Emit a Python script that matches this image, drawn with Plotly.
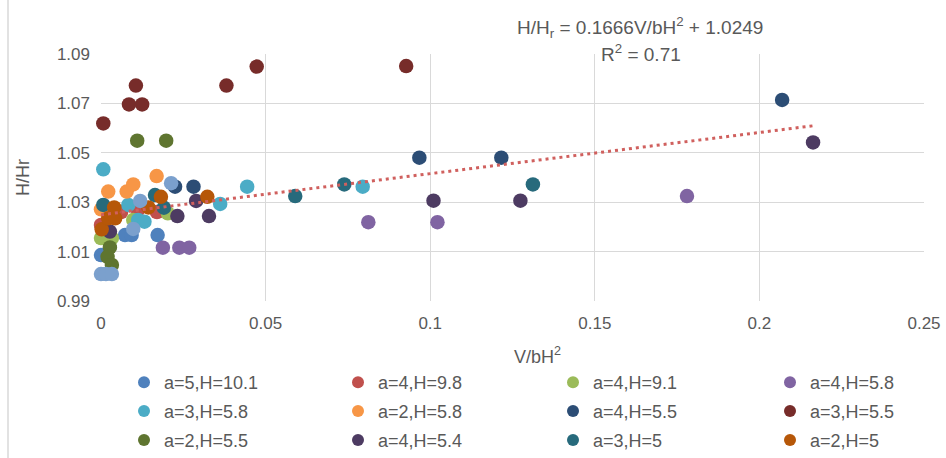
import numpy as np
import plotly.graph_objects as go

# Series names (legend labels) and their marker colours
names = ["a=5,H=10.1", "a=4,H=9.8", "a=4,H=9.1", "a=4,H=5.8",
         "a=3,H=5.8", "a=2,H=5.8", "a=4,H=5.5", "a=3,H=5.5",
         "a=2,H=5.5", "a=4,H=5.4", "a=3,H=5", "a=2,H=5"]
colors = ["#4F81BD", "#C0504D", "#9BBB59", "#8064A2",
          "#4BACC6", "#F79646", "#2C4D75", "#772C2A",
          "#5F7530", "#4D3B62", "#276A7C", "#B65708"]

# V/bH^2 values per series
x_a5_h101 = [0.0, 0.0073, 0.0093, 0.0172]
x_a4_h98 = [0.0, 0.0061, 0.0112, 0.0170]
x_a4_h91 = [0.0, 0.0012, 0.0033, 0.0098, 0.0203]
x_a4_h58 = [0.0188, 0.0238, 0.0268, 0.0812, 0.1022, 0.1780]
x_a3_h58 = [0.0007, 0.0083, 0.0113, 0.0132, 0.0362, 0.0444, 0.0795]
x_a2_h58 = [0.0, 0.0022, 0.0078, 0.0098, 0.0169]
x_a4_h55 = [0.0225, 0.0281, 0.0967, 0.1216, 0.2069]
x_a3_h55 = [0.0007, 0.0085, 0.0125, 0.0106, 0.0381, 0.0473, 0.0927]
x_a2_h55 = [0.0110, 0.0198, 0.0027, 0.0020, 0.0033]
x_a4_h54 = [0.0027, 0.0232, 0.0289, 0.0328, 0.1010, 0.1274, 0.2163]
x_a3_h5 = [0.0007, 0.0164, 0.0191, 0.0590, 0.0739, 0.1312]
x_a2_h5 = [0.0002, 0.0022, 0.0043, 0.0040, 0.0144, 0.0182, 0.0323]

# H/Hr values per series
y_a5_h101 = [1.0086, 1.0167, 1.0167, 1.0167]
y_a4_h98 = [1.0208, 1.0260, 1.0268, 1.0260]
y_a4_h91 = [1.0155, 1.0155, 1.0155, 1.0228, 1.0255]
y_a4_h58 = [1.0116, 1.0116, 1.0116, 1.0219, 1.0219, 1.0325]
y_a3_h58 = [1.0433, 1.0289, 1.0228, 1.0221, 1.0293, 1.0363, 1.0363]
y_a2_h58 = [1.0271, 1.0343, 1.0343, 1.0372, 1.0406]
y_a4_h55 = [1.0363, 1.0363, 1.0480, 1.0480, 1.0714]
y_a3_h55 = [1.0619, 1.0696, 1.0696, 1.0772, 1.0772, 1.0849, 1.0851]
y_a2_h55 = [1.0549, 1.0549, 1.0117, 1.0079, 1.0046]
y_a4_h54 = [1.0181, 1.0244, 1.0305, 1.0244, 1.0306, 1.0306, 1.0542]
y_a3_h5 = [1.0289, 1.0329, 1.0278, 1.0325, 1.0372, 1.0372]
y_a2_h5 = [1.0190, 1.0235, 1.0235, 1.0279, 1.0279, 1.0322, 1.0322]

# Extra series without a legend entry
x_extra = [0.0, 0.0015, 0.0033, 0.0098, 0.0119, 0.0213]
y_extra = [1.0009, 1.0009, 1.0009, 1.0192, 1.0305, 1.0377]
extra_color = "#7BA0CD"

xs = [x_a5_h101, x_a4_h98, x_a4_h91, x_a4_h58, x_a3_h58, x_a2_h58,
      x_a4_h55, x_a3_h55, x_a2_h55, x_a4_h54, x_a3_h5, x_a2_h5]
ys = [y_a5_h101, y_a4_h98, y_a4_h91, y_a4_h58, y_a3_h58, y_a2_h58,
      y_a4_h55, y_a3_h55, y_a2_h55, y_a4_h54, y_a3_h5, y_a2_h5]

# Linear trend line coefficients
slope = 0.1666
intercept = 1.0249

x_ticks = [0, 0.05, 0.1, 0.15, 0.2, 0.25]
x_tick_text = ["0", "0.05", "0.1", "0.15", "0.2", "0.25"]
y_ticks = [0.99, 1.01, 1.03, 1.05, 1.07, 1.09]
y_tick_text = ["0.99", "1.01", "1.03", "1.05", "1.07", "1.09"]

FONT = "Liberation Sans, Arial, sans-serif"
GREY = "#595959"
GRID = "#D9D9D9"
MSIZE = 14.5

W, H = 946, 458
ML, MR, MT, MB = 101, 22, 54, 157
PW = W - ML - MR
PH = H - MT - MB

legend_ids = ["legend", "legend2", "legend3", "legend4"]

fig = go.Figure()
for i, (name, col) in enumerate(zip(names, colors)):
    fig.add_trace(go.Scatter(
        x=xs[i], y=ys[i], mode="markers", name=name,
        marker=dict(color=col, size=MSIZE, line=dict(width=0)),
        legend=legend_ids[i % 4], legendgroup=name,
        cliponaxis=False,
    ))

fig.add_trace(go.Scatter(
    x=x_extra, y=y_extra, mode="markers", showlegend=False,
    marker=dict(color=extra_color, size=MSIZE, line=dict(width=0)),
    cliponaxis=False,
))

all_x = np.concatenate([np.array(v) for v in xs] + [np.array(x_extra)])
tx = np.array([all_x.min(), all_x.max()])
fig.add_trace(go.Scatter(
    x=tx, y=slope * tx + intercept, mode="lines", showlegend=False,
    line=dict(color="#D0605E", width=3, dash="3px,4px"),
    cliponaxis=False,
))

def px_to_paper_x(px):
    return (px - ML) / PW

def py_to_paper_y(py):
    return (H - MB - py) / PH

legend_left_px = [124, 338, 553, 770]
legend_common = dict(
    orientation="v", xanchor="left", yanchor="top",
    y=py_to_paper_y(364), font=dict(family=FONT, size=18, color=GREY),
    traceorder="grouped", tracegroupgap=2.5, itemsizing="constant",
    bgcolor="rgba(0,0,0,0)", borderwidth=0,
)
legend_layout = {}
for lid, lx in zip(legend_ids, legend_left_px):
    legend_layout[lid] = dict(legend_common, x=px_to_paper_x(lx))

fig.update_layout(
    width=W, height=H,
    margin=dict(l=ML, r=MR, t=MT, b=MB, pad=0, autoexpand=False),
    paper_bgcolor="white", plot_bgcolor="white",
    font=dict(family=FONT, color=GREY),
    xaxis=dict(
        range=[0, 0.25], tickvals=x_ticks, ticktext=x_tick_text,
        showgrid=True, gridcolor=GRID, gridwidth=1.3,
        zeroline=False, showline=False, ticks="",
        tickfont=dict(family=FONT, size=17, color=GREY),
        ticklabelstandoff=10,
    ),
    yaxis=dict(
        range=[0.99, 1.09], tickvals=y_ticks, ticktext=y_tick_text,
        showgrid=True, gridcolor=GRID, gridwidth=1.3,
        zeroline=False, showline=False, ticks="",
        tickfont=dict(family=FONT, size=17, color=GREY),
        ticklabelstandoff=10,
    ),
    showlegend=True,
    **legend_layout,
)

# Axis titles and fit equation
fig.add_annotation(
    text="V/bH<sup>2</sup>", xref="paper", yref="paper",
    x=px_to_paper_x(537), y=py_to_paper_y(355),
    showarrow=False, font=dict(family=FONT, size=18, color=GREY),
    xanchor="center", yanchor="middle",
)
fig.add_annotation(
    text="H/Hr", xref="paper", yref="paper",
    x=px_to_paper_x(23), y=py_to_paper_y(178), textangle=-90,
    showarrow=False, font=dict(family=FONT, size=18, color=GREY),
    xanchor="center", yanchor="middle",
)
fig.add_annotation(
    text="H/H<sub>r</sub> = 0.1666V/bH<sup>2</sup> + 1.0249",
    xref="paper", yref="paper",
    x=px_to_paper_x(640), y=py_to_paper_y(28),
    showarrow=False, font=dict(family=FONT, size=19, color=GREY),
    xanchor="center", yanchor="middle",
)
fig.add_annotation(
    text="R<sup>2</sup> = 0.71",
    xref="paper", yref="paper",
    x=px_to_paper_x(641), y=py_to_paper_y(53),
    showarrow=False, font=dict(family=FONT, size=19, color=GREY),
    xanchor="center", yanchor="middle",
)

# Chart-area frame edge on the left
fig.add_shape(
    type="line", xref="paper", yref="paper",
    x0=px_to_paper_x(8), x1=px_to_paper_x(8),
    y0=py_to_paper_y(0), y1=py_to_paper_y(H),
    line=dict(color=GRID, width=1.5),
)

fig.write_html("out.html")
